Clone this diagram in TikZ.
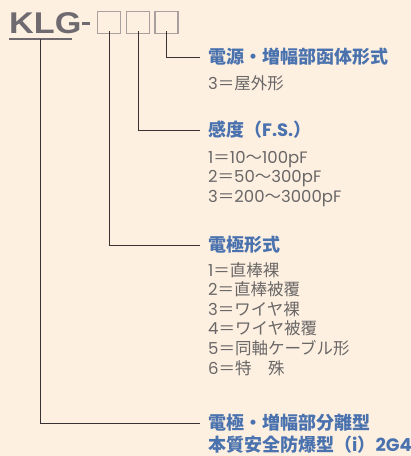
\documentclass[tikz,border=0pt]{standalone}
\usepackage{fontspec}
\setmainfont{Noto Sans CJK JP}
\newfontfamily\latinfont{Poppins}
\newfontfamily\codefont{Liberation Sans}
\newcommand{\lat}[1]{{\latinfont #1}}
\definecolor{bgcream}{HTML}{FDF0E1}
\definecolor{headblue}{HTML}{4A72AE}
\definecolor{itemgray}{HTML}{6A6767}
\definecolor{boxgray}{HTML}{A89F9E}
\definecolor{codegray}{HTML}{6E6A70}
\definecolor{wire}{HTML}{3A3232}

\begin{document}
\begin{tikzpicture}[x=1pt,y=-1pt,
    box/.style={draw=boxgray, line width=1.3pt, minimum width=23pt, minimum height=22pt, inner sep=0pt},
    head/.style={anchor=west, inner sep=0pt, text=headblue, font=\fontsize{18}{20}\selectfont\bfseries},
    item/.style={anchor=north west, inner sep=0pt, text=itemgray, align=left, font=\fontsize{16.5}{19.6}\selectfont},
    wire/.style={draw=wire, line width=0.8pt}]
    \fill[bgcream] (0,0) rectangle (411,456);
    \useasboundingbox (0,0) rectangle (411,456);

    % model code
    \node[anchor=west, inner sep=0pt, text=codegray, font=\codefont\fontsize{30}{30}\selectfont\bfseries, xscale=1.14] (code) at (9,23) {KLG};
    \fill[codegray] (82,21.5) rectangle (90,25);
    \draw[codegray, line width=1.3pt] (9,39) -- (72,39);
    \coordinate (code-foot) at (40.5,39);
    \node[box] (box-1) at (109,22.5) {};
    \node[box] (box-2) at (138,22.5) {};
    \node[box] (box-3) at (166.5,22.5) {};

    % first digit
    \node[head] (head-1) at (208,57) {電源・増幅部函体形式};
    \node[item] (item-1) at (208,75) {\lat{3}＝屋外形};

    % second digit
    \node[head] (head-2) at (208,130) {感度（\lat{F.S.}）};
    \node[item] (item-2) at (208,151) {\lat{1}＝\lat{10}～\lat{100pF}\\\lat{2}＝\lat{50}～\lat{300pF}\\\lat{3}＝\lat{200}～\lat{3000pF}};

    % third digit
    \node[head] (head-3) at (208,245) {電極形式};
    \node[item] (item-3) at (208,262) {\lat{1}＝直棒裸\\\lat{2}＝直棒被覆\\\lat{3}＝ワイヤ裸\\\lat{4}＝ワイヤ被覆\\\lat{5}＝同軸ケーブル形\\\lat{6}＝特\quad 殊};

    % KLG
    \node[head] (head-4) at (208,423) {電極・増幅部分離型};
    \node[head] (head-5) at (208,445) {本質安全防爆型（\lat{i}）\lat{2G4}};

    % connectors
    \draw[wire] ([yshift=3pt]box-3.south) |- ([xshift=-8pt]head-1.west);
    \draw[wire] ([yshift=3pt]box-2.south) |- ([xshift=-8pt]head-2.west);
    \draw[wire] ([yshift=3pt]box-1.south) |- ([xshift=-8pt]head-3.west);
    \draw[wire] (code-foot) |- ([xshift=-8pt]head-4.west);
\end{tikzpicture}
\end{document}
